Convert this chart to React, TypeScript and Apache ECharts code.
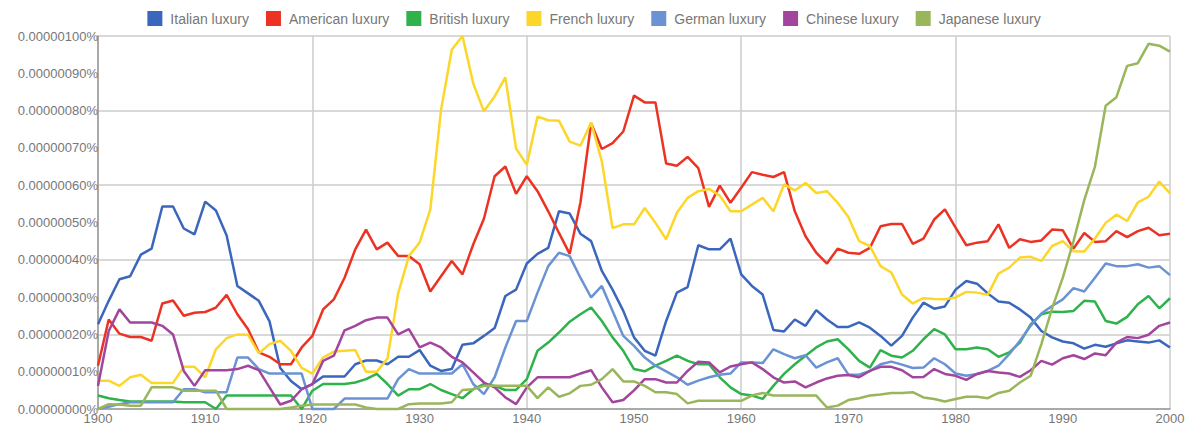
import React, { useEffect, useRef } from "react";
import * as echarts from "echarts";

const years: number[] = Array.from({ length: 101 }, (_, i) => 1900 + i);

const seriesNames = [
  "Italian luxury",
  "American luxury",
  "British luxury",
  "French luxury",
  "German luxury",
  "Chinese luxury",
  "Japanese luxury",
];

const seriesColors = ["#3a67bd", "#ec3323", "#2fb24c", "#fcd72a", "#6b93d3", "#a2459d", "#99b65b"];

// values in units of 0.00000001 %
const italian = [
  22.7, 29, 34.8, 35.6, 41.4, 43, 54.3, 54.3, 48.4, 46.8,
  55.6, 53.2, 46.5, 33, 31, 29, 23.5, 11, 7.5, 5.3,
  6.7, 8.7, 8.7, 8.7, 12, 13, 13, 12, 14, 14,
  15.8, 11.6, 10.2, 10.7, 17.2, 17.6, 19.6, 21.7, 30.3, 32,
  39, 41.6, 43.2, 53, 52.4, 47, 45, 37, 32, 26.3,
  19.2, 15.6, 14.3, 23.6, 31.2, 32.7, 43.9, 42.8, 42.8, 45.7,
  36.1, 33, 30.7, 21.2, 20.8, 24, 22.3, 26.5, 24, 22,
  22, 23.2, 21.8, 19.6, 17, 19.6, 24.5, 28.5, 26.9, 27.5,
  32, 34.3, 33.6, 31, 28.8, 28.5, 26.7, 24.5, 20.9, 19.2,
  18.1, 17.6, 16.2, 17.2, 16.7, 17.6, 18.4, 18.1, 17.8, 18.4,
  16.5,
];

const american = [
  11.6, 24, 20.2, 19.3, 19.3, 18.3, 28.3, 29.1, 25, 25.8,
  26, 27.2, 30.6, 25.4, 21.4, 15.2, 14, 12, 12, 16.5,
  19.6, 26.7, 29.4, 35.2, 42.8, 48.1, 42.8, 44.6, 41, 41,
  38.8, 31.5, 35.6, 39.7, 36.1, 44.1, 51, 62.4, 65, 57.7,
  62.4, 58.4, 53, 47.2, 41.6, 55.3, 76.6, 69.7, 71.3, 74.4,
  84, 82.2, 82.2, 65.8, 65.2, 67.6, 64.6, 54.2, 59.9, 55.3,
  59.3, 63.5, 62.8, 62.2, 63.5, 53, 46.3, 41.9, 39, 43,
  41.9, 41.6, 43.2, 49, 49.6, 49.6, 44.3, 45.7, 50.8, 53.5,
  48.6, 43.9, 44.6, 45, 49.5, 43.2, 45.5, 44.8, 45.2, 48.1,
  47.9, 43, 47.2, 44.8, 45, 47.7, 46.1, 47.7, 48.6, 46.6,
  47,
];

const british = [
  3.6, 2.9, 2.4, 2, 2, 2, 2, 2, 1.8, 1.8,
  1.8, 0, 3.6, 3.6, 3.6, 3.6, 3.6, 3.6, 3.6, 0,
  4.9, 6.7, 6.7, 6.7, 7.1, 8, 9.4, 6.7, 3.6, 5.3,
  5.3, 6.7, 5.1, 4, 2.9, 5.3, 6.7, 6.2, 5.1, 5.1,
  8, 15.6, 17.8, 20.5, 23.4, 25.4, 27.2, 23.6, 19.2, 15.6,
  10.7, 10.1, 11.6, 12.9, 14.3, 12.9, 12, 12, 8.5, 5.8,
  4, 3.6, 2.7, 6.2, 9.4, 12, 14.3, 16.5, 18.1, 18.7,
  16, 12.9, 11.1, 15.8, 14.3, 13.8, 15.6, 18.7, 21.4, 20,
  16, 16, 16.5, 16, 14, 15.2, 17.8, 22.7, 25.4, 26.1,
  26, 26.3, 29, 28.8, 23.6, 22.9, 24.7, 28.1, 30.3, 27,
  29.7,
];

const french = [
  7.6, 7.6, 6.2, 8.5, 9.2, 7, 7, 7, 11.3, 11.3,
  8.5, 16, 19, 20, 19.9, 14.9, 17.4, 18.3, 15.6, 11,
  9.5, 13.8, 15.4, 15.6, 15.8, 10, 10, 13.5, 31, 41,
  44.6, 53.5, 80.2, 96.3, 100, 87.3, 79.8, 83.8, 88.9, 69.8,
  65.5, 78.4, 77.4, 77.3, 71.7, 70.6, 76.8, 66.4, 48.5, 49.5,
  49.5, 53.9, 49.9, 45.5, 52.6, 56.6, 58.4, 59, 57.2, 53,
  53, 54.8, 56.6, 53, 60.2, 58.6, 60.6, 57.9, 58.4, 55.3,
  51.5, 45, 43.7, 38.3, 36.6, 30.7, 28.3, 29.7, 29.5, 29.4,
  29.9, 31.4, 31.2, 30.6, 36.3, 37.9, 40.6, 40.8, 39.7, 43.7,
  45, 42.3, 42.2, 45.7, 49.9, 52.1, 50.4, 55.4, 56.9, 61,
  57.8,
];

const german = [
  0, 0.6, 1.3, 1.8, 1.8, 1.8, 1.8, 1.8, 5.3, 5.3,
  4.5, 4.5, 4.5, 13.8, 13.8, 10.7, 9.5, 9.5, 9.5, 9.5,
  0, 0, 0, 2.8, 2.8, 2.8, 2.8, 2.8, 8, 10.7,
  9.5, 9.5, 9.5, 9.5, 12, 6.7, 4, 8.5, 16.5, 23.6,
  23.6, 31.2, 38.3, 41.9, 41, 35.2, 29.9, 33, 26.3, 19.6,
  16.9, 13.8, 11.6, 10.1, 8.5, 6.5, 7.6, 8.5, 9.2, 9.5,
  12.5, 12.5, 12.3, 16, 14.7, 13.6, 14.4, 11.1, 12.5, 13.6,
  9.2, 9.2, 10.2, 12, 12.7, 11.9, 11, 11.1, 13.6, 12,
  9.5, 8.9, 9.4, 10.2, 11.6, 14.7, 18.3, 22.3, 25.6, 27.6,
  29.4, 32.4, 31.5, 35.2, 39, 38.3, 38.3, 38.8, 37.9, 38.3,
  35.9,
];

const chinese = [
  6.2, 20.9, 26.7, 23.2, 23.2, 23.2, 22.3, 20, 10.2, 6.2,
  10.4, 10.4, 10.4, 10.7, 11.6, 10.4, 5.8, 1.2, 2.2, 5.3,
  6.7, 12.9, 14.3, 21.1, 22.3, 23.8, 24.5, 24.5, 20, 21.4,
  16.5, 17.8, 16.5, 14, 12.5, 9.8, 7.1, 5.8, 3.1, 1.3,
  5.8, 8.5, 8.5, 8.5, 8.5, 9.5, 10.4, 5.8, 1.8, 2.4,
  5, 8, 8, 7.1, 7.1, 10.2, 12.7, 12.5, 9.8, 11.4,
  12, 12.5, 10.7, 8.5, 7.1, 7.4, 5.8, 7.1, 8.2, 8.9,
  9.1, 8.5, 10.2, 11.3, 11.3, 10.4, 8.5, 8.6, 10.7, 9.4,
  8.9, 7.8, 9.4, 10.2, 9.8, 9.5, 8.6, 10.4, 12.9, 11.9,
  13.6, 14.4, 13.4, 14.9, 14.4, 17.8, 19.3, 19, 19.9, 22.3,
  23.2,
];

const japanese = [
  0, 1.3, 1.2, 0.9, 0.9, 5.8, 5.8, 5.8, 4.9, 4.9,
  4.9, 4.9, 0, 0, 0, 0, 0, 0, 0.4, 0.9,
  1.2, 1.2, 1.2, 1.2, 1.2, 0.4, 0, 0, 0, 1.3,
  1.5, 1.5, 1.5, 1.8, 5.1, 5.3, 6.2, 6.2, 6.2, 6.2,
  6.2, 2.9, 5.8, 3.3, 4.2, 6.2, 6.5, 8, 10.7, 7.4,
  7.4, 6.2, 4.5, 4.5, 4, 1.5, 2.2, 2.2, 2.2, 2.2,
  2.2, 3.6, 4.3, 3.6, 3.6, 3.6, 3.6, 3.6, 0.4, 0.9,
  2.4, 2.9, 3.6, 3.9, 4.3, 4.3, 4.5, 3.1, 2.7, 2,
  2.7, 3.3, 3.3, 2.9, 4.3, 4.9, 7.1, 8.9, 17.4, 27,
  35.2, 45, 56, 65, 81.3, 83.6, 92, 92.7, 97.9, 97.4,
  95.8,
];

const allValues = [italian, american, british, french, german, chinese, japanese];

const FONT = 'Arial, "Liberation Sans", Helvetica, sans-serif';

export default function App() {
  const ref = useRef<HTMLDivElement>(null);

  useEffect(() => {
    if (!ref.current) return;
    const chart = echarts.init(ref.current, null, { renderer: "svg" });
    const option: any = {
      animation: false,
      backgroundColor: "#ffffff",
      textStyle: { fontFamily: FONT },
      legend: {
        top: 6,
        left: "center",
        icon: "rect",
        itemWidth: 15,
        itemHeight: 15,
        itemGap: 17,
        textStyle: { fontSize: 14, color: "#777777", fontFamily: FONT, padding: [0, 0, 0, 3] },
        data: seriesNames,
      },
      grid: { left: 98, right: 18, top: 36, bottom: 15 },
      xAxis: [
        {
          type: "value",
          min: 1900,
          max: 2000,
          interval: 10,
          axisLine: { show: true, lineStyle: { color: "#999999", width: 1.5 } },
          axisTick: { show: false },
          splitLine: { show: false },
          axisLabel: {
            fontSize: 13,
            color: "#777777",
            fontFamily: FONT,
            margin: 3,
            formatter: (v: number) => String(v),
          },
        },
        {
          type: "value",
          min: 1900,
          max: 2000,
          interval: 20,
          position: "top",
          axisLine: { show: false },
          axisTick: { show: false },
          axisLabel: { show: false },
          splitLine: { show: true, lineStyle: { color: "#cccccc", width: 1.5 } },
        },
      ],
      yAxis: [
        {
          type: "value",
          min: 0,
          max: 100,
          interval: 10,
          axisLine: { show: true, lineStyle: { color: "#999999", width: 1.5 } },
          axisTick: { show: false },
          splitLine: { show: false },
          axisLabel: {
            fontSize: 13,
            color: "#777777",
            fontFamily: FONT,
            margin: 0,
            formatter: (v: number) => "0." + String(Math.round(v)).padStart(8, "0") + "%",
          },
        },
        {
          type: "value",
          min: 0,
          max: 100,
          interval: 20,
          position: "right",
          axisLine: { show: false },
          axisTick: { show: false },
          axisLabel: { show: false },
          splitLine: { show: true, lineStyle: { color: "#cccccc", width: 1.5 } },
        },
      ],
      series: seriesNames.map((name, i) => ({
        name,
        type: "line",
        xAxisIndex: 0,
        yAxisIndex: 0,
        symbol: "none",
        clip: false,
        color: seriesColors[i],
        lineStyle: { width: 2.5, color: seriesColors[i] },
        data: years.map((y, j) => [y, allValues[i][j]]),
      })),
    };
    chart.setOption(option);
    return () => chart.dispose();
  }, []);

  return (
    <div
      ref={ref}
      style={{ position: "fixed", left: 0, top: 0, width: 1188, height: 425, background: "#fff" }}
    />
  );
}
